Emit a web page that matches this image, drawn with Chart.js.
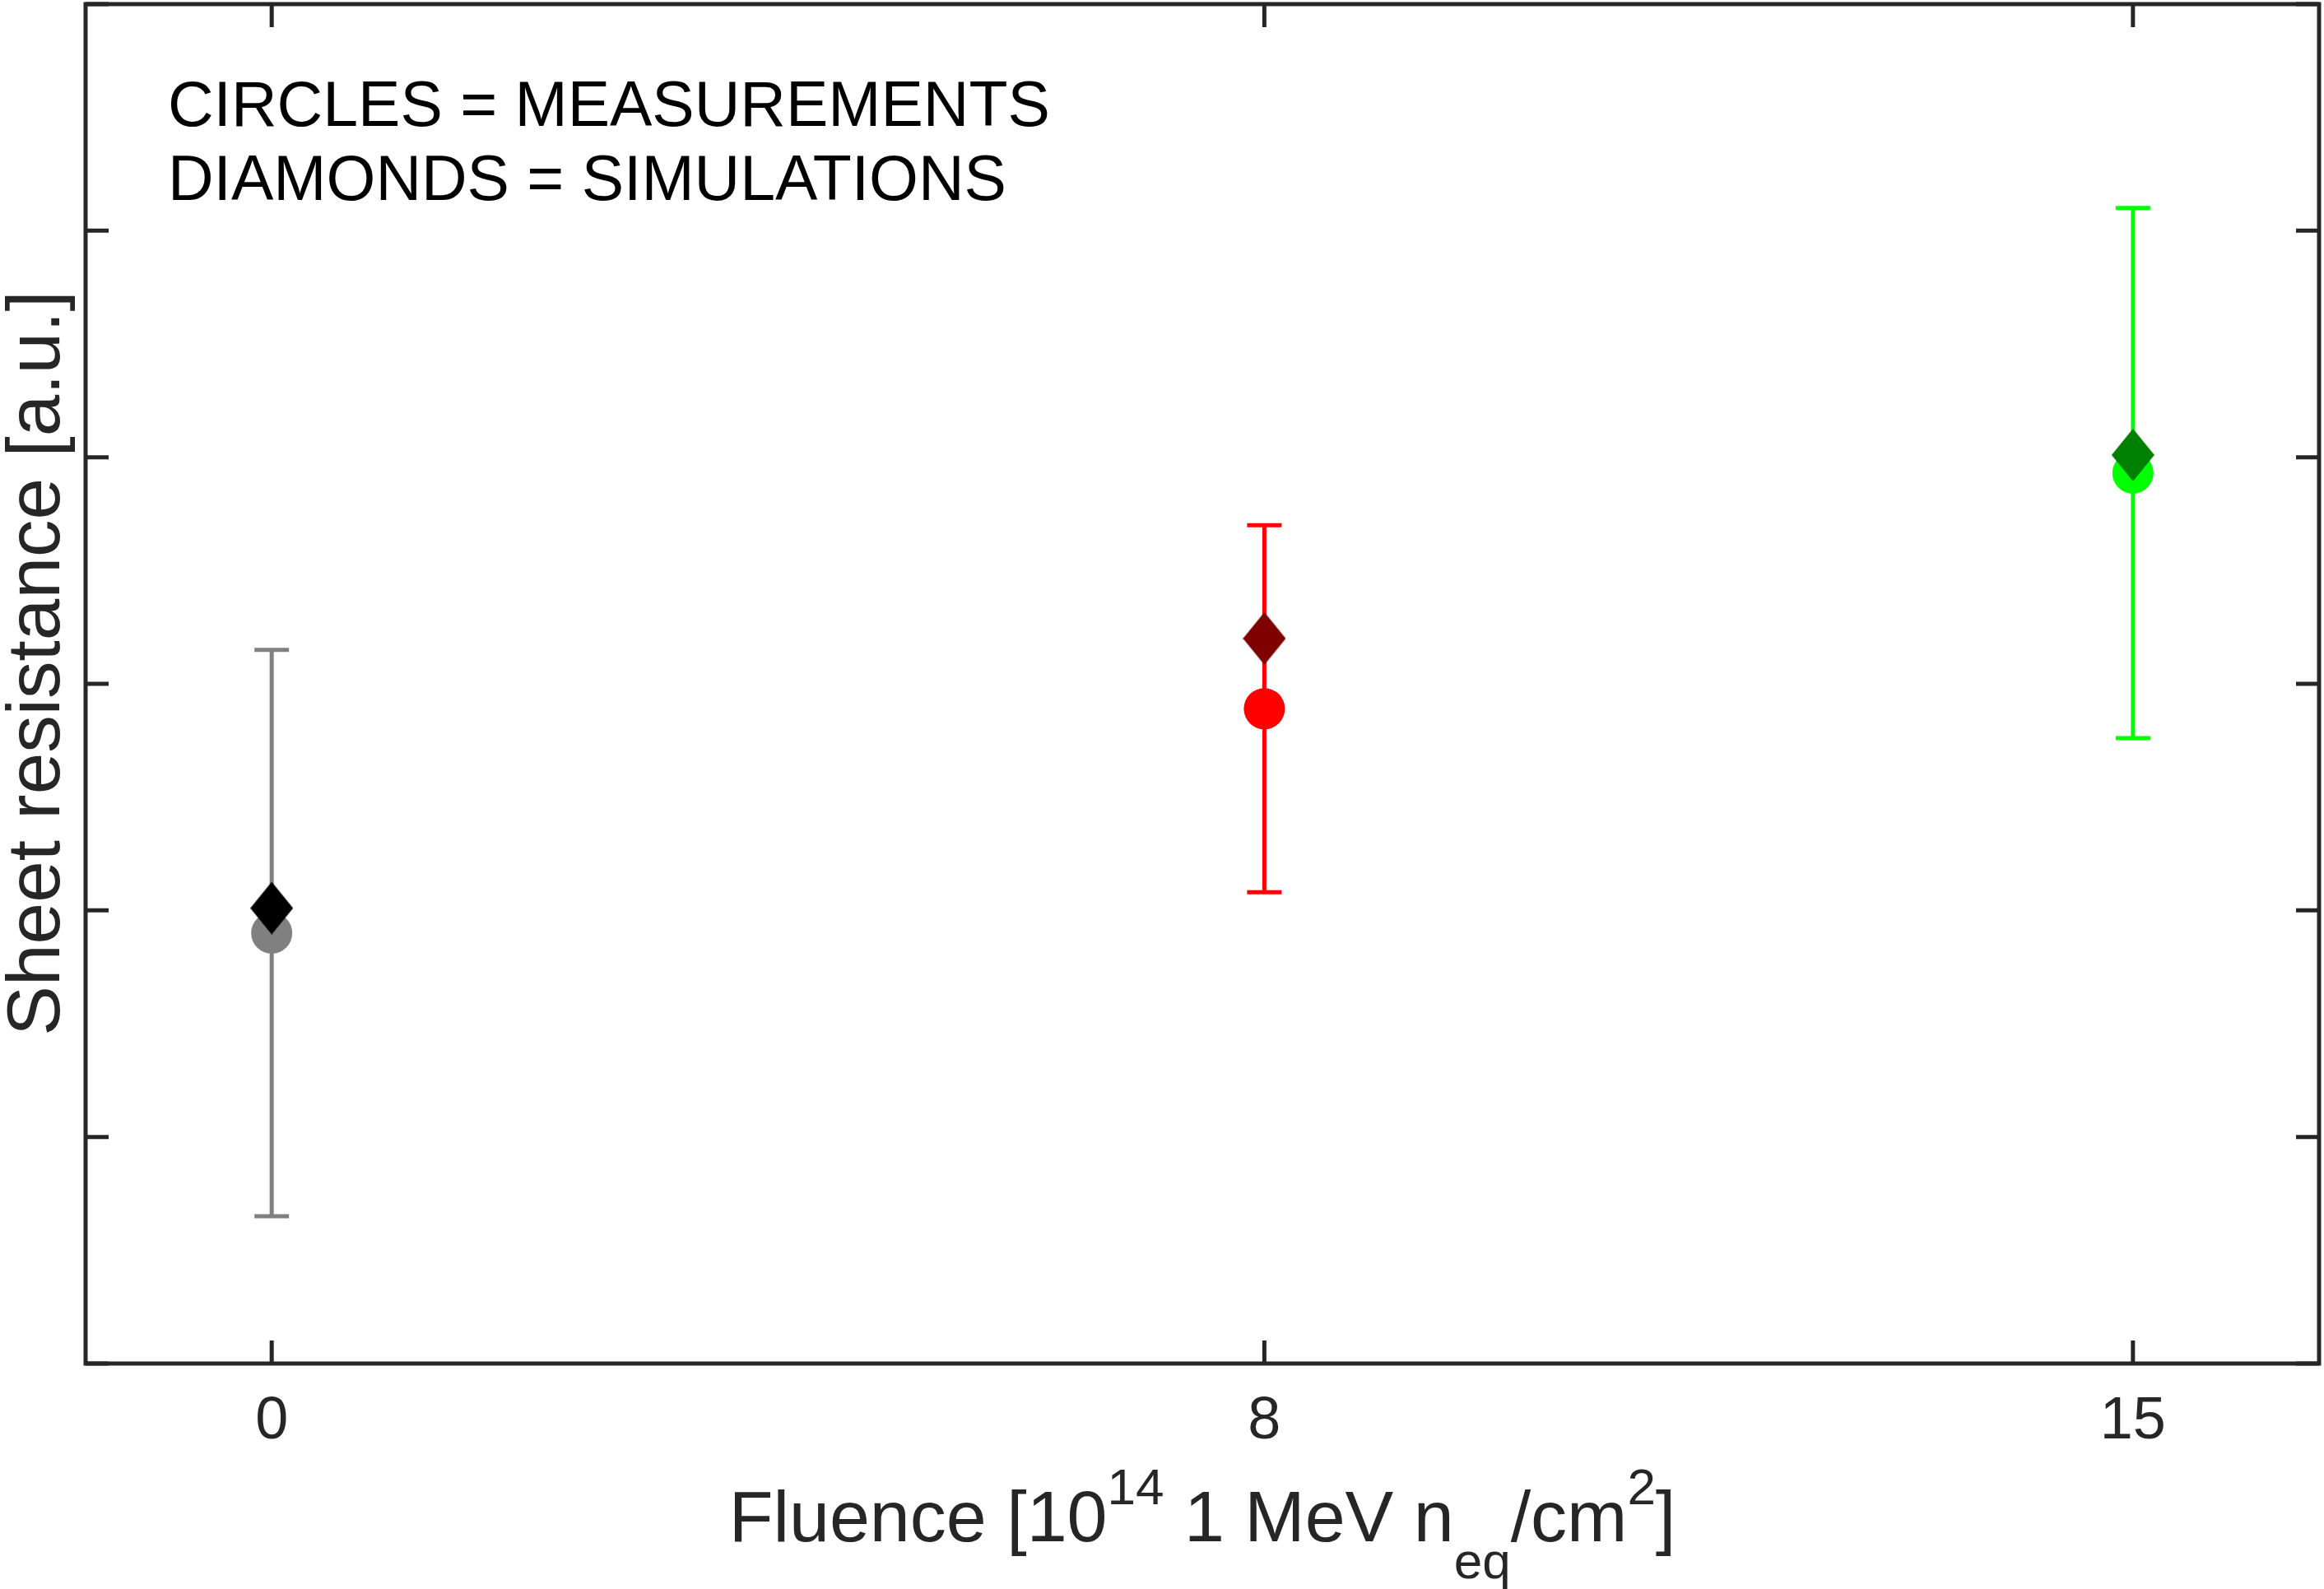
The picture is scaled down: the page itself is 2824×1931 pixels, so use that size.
<!DOCTYPE html>
<html>
<head>
<meta charset="utf-8">
<title>Sheet resistance vs fluence</title>
<script src="https://cdn.jsdelivr.net/npm/chart.js@4.4.1/dist/chart.umd.min.js"></script>
<style>
  html, body { margin: 0; padding: 0; background: #fff; }
  #wrap { width: 2824px; height: 1931px; position: relative; }
</style>
</head>
<body>
<div id="wrap"><canvas id="plot"></canvas></div>
<script>
// --- data (arbitrary units, y axis runs 0..6) ---
const fluence = [0, 8, 15];
const xTickLabels = ['0', '8', '15'];
const measured = [1.90, 2.89, 3.93];
const measuredErr = [1.25, 0.81, 1.17];
const simulated = [2.01, 3.20, 4.01];
const yTicks = [0, 1, 2, 3, 4, 5, 6];

// --- look ---
const MEAS_COLORS = ['#808080', '#ff0000', '#00ff00'];
const SIM_COLORS = ['#000000', '#800000', '#008000'];
const AXIS_COLOR = '#262626';
const FONT = '"Liberation Sans", Arial, Helvetica, sans-serif';
const TICK = 28;

// diamond marker as a small canvas (matlab 'd' is a bit taller than wide)
function diamond(color, w, h) {
  const c = document.createElement('canvas');
  c.width = w; c.height = h;
  const g = c.getContext('2d');
  g.fillStyle = color;
  g.beginPath();
  g.moveTo(w / 2, 0);
  g.lineTo(w, h / 2);
  g.lineTo(w / 2, h);
  g.lineTo(0, h / 2);
  g.closePath();
  g.fill();
  return c;
}

// --- error bars under the markers ---
const errorBars = {
  id: 'errorBars',
  beforeDatasetsDraw(chart) {
    const { ctx, scales: { x, y } } = chart;
    ctx.save();
    ctx.lineWidth = 5;
    fluence.forEach((f, i) => {
      const px = x.getPixelForValue(f);
      const top = y.getPixelForValue(measured[i] + measuredErr[i]);
      const bot = y.getPixelForValue(measured[i] - measuredErr[i]);
      ctx.strokeStyle = MEAS_COLORS[i];
      ctx.beginPath();
      ctx.moveTo(px, top); ctx.lineTo(px, bot);
      ctx.moveTo(px - 21, top); ctx.lineTo(px + 21, top);
      ctx.moveTo(px - 21, bot); ctx.lineTo(px + 21, bot);
      ctx.stroke();
    });
    ctx.restore();
  }
};

// --- box frame with inward ticks on all four sides ---
const frame = {
  id: 'frame',
  afterDatasetsDraw(chart) {
    const { ctx, chartArea: a, scales: { x, y } } = chart;
    ctx.save();
    ctx.strokeStyle = AXIS_COLOR;
    ctx.lineWidth = 5;
    ctx.strokeRect(a.left, a.top, a.right - a.left, a.bottom - a.top);
    ctx.beginPath();
    x.ticks.forEach(t => {
      const px = x.getPixelForValue(t.value);
      ctx.moveTo(px, a.bottom); ctx.lineTo(px, a.bottom - TICK);
      ctx.moveTo(px, a.top); ctx.lineTo(px, a.top + TICK);
    });
    y.ticks.forEach(t => {
      const py = y.getPixelForValue(t.value);
      ctx.moveTo(a.left, py); ctx.lineTo(a.left + TICK, py);
      ctx.moveTo(a.right, py); ctx.lineTo(a.right - TICK, py);
    });
    ctx.stroke();
    ctx.restore();
  }
};

// --- annotation, axis labels (x label needs super/subscripts) ---
const texts = {
  id: 'texts',
  afterDraw(chart) {
    const { ctx, chartArea: a } = chart;
    ctx.save();
    ctx.fillStyle = '#000';
    ctx.textBaseline = 'alphabetic';
    ctx.textAlign = 'left';
    ctx.font = '77px ' + FONT;
    ctx.fillText('CIRCLES = MEASUREMENTS', 204, 153);
    ctx.fillText('DIAMONDS = SIMULATIONS', 204, 243);

    // y label
    ctx.fillStyle = AXIS_COLOR;
    ctx.save();
    ctx.translate(72, 806);
    ctx.rotate(-Math.PI / 2);
    ctx.textAlign = 'center';
    ctx.font = '91px ' + FONT;
    ctx.fillText('Sheet resistance [a.u.]', 0, 0);
    ctx.restore();

    // x label
    const big = '88px ' + FONT, small = '62px ' + FONT;
    const parts = [
      ['Fluence [10', big, 0], ['14', small, -45], [' 1 MeV n', big, 0],
      ['eq', small, 45], ['/cm', big, 0], ['2', small, -45], [']', big, 0]
    ];
    let total = 0;
    parts.forEach(p => { ctx.font = p[1]; total += ctx.measureText(p[0]).width; });
    let cx = (a.left + a.right) / 2 - total / 2;
    const base = 1873;
    parts.forEach(p => {
      ctx.font = p[1];
      ctx.fillText(p[0], cx, base + p[2]);
      cx += ctx.measureText(p[0]).width;
    });
    ctx.restore();
  }
};

new Chart(document.getElementById('plot'), {
  type: 'scatter',
  data: {
    datasets: [
      {
        label: 'Simulations',
        data: fluence.map((f, i) => ({ x: f, y: simulated[i] })),
        pointStyle: SIM_COLORS.map(c => diamond(c, 52, 64)),
        pointRadius: 26,
        order: 0
      },
      {
        label: 'Measurements',
        data: fluence.map((f, i) => ({ x: f, y: measured[i] })),
        pointStyle: 'circle',
        pointRadius: 25,
        backgroundColor: MEAS_COLORS,
        borderWidth: 0,
        order: 1
      }
    ]
  },
  options: {
    responsive: true,
    maintainAspectRatio: false,
    animation: false,
    layout: { autoPadding: false, padding: { top: 5, right: 6, bottom: 140, left: 96 } },
    plugins: { legend: { display: false }, tooltip: { enabled: false } },
    scales: {
      x: {
        type: 'linear', min: -1.5, max: 16.5,
        afterBuildTicks: s => { s.ticks = fluence.map(v => ({ value: v })); },
        ticks: {
          callback: v => xTickLabels[fluence.indexOf(v)],
          font: { family: FONT, size: 72, lineHeight: 1 },
          color: AXIS_COLOR, padding: 27, maxRotation: 0, autoSkip: false
        },
        grid: { display: false },
        border: { display: false }
      },
      y: {
        min: 0, max: 6,
        afterBuildTicks: s => { s.ticks = yTicks.map(v => ({ value: v })); },
        ticks: { display: false },
        grid: { display: false },
        border: { display: false }
      }
    }
  },
  plugins: [errorBars, frame, texts]
});
</script>
</body>
</html>
